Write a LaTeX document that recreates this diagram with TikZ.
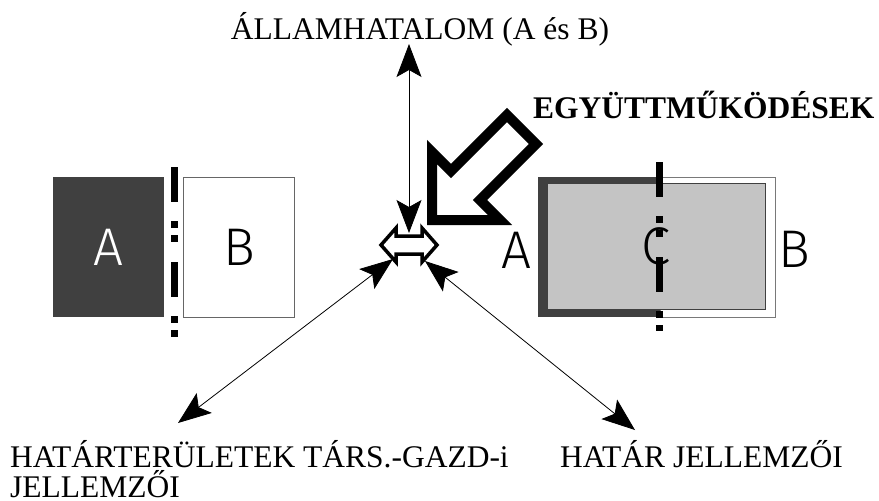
\documentclass[tikz,border=0pt]{standalone}
\usepackage{fontspec}
\setmainfont{Liberation Serif}
\newfontfamily\letterfont{Fira Sans Light}
\usetikzlibrary{positioning, arrows.meta}
\definecolor{darkbox}{HTML}{404040}
\definecolor{graybox}{HTML}{C4C4C4}
\tikzset{
  box/.style={minimum width=111pt, minimum height=140pt, inner sep=0pt, font=\letterfont\fontsize{53}{53}\selectfont},
  letter/.style={inner sep=0pt, font=\letterfont\fontsize{53}{53}\selectfont},
  txt/.style={inner sep=0pt, anchor=base west, font=\fontsize{31.5}{30}\selectfont},
  border/.style={line width=7pt, dash pattern=on 35pt off 19pt on 7pt off 7pt on 7pt off 20pt},
  link/.style={line width=0.8pt, {Stealth[length=33pt,width=25pt,inset=7pt]}-{Stealth[length=33pt,width=25pt,inset=7pt]}},
  hollow/.style={line join=miter, fill=white}
}
\begin{document}
\begin{tikzpicture}[x=1pt, y=-1pt]
  \useasboundingbox (0,0) rectangle (879,501);

  \node[box, fill=darkbox, text=white] (A) at (108.5,247) {A};
  \node[box, draw=darkbox!80, line width=0.8pt, right=19pt of A] (B) {B};
  \draw[border] (174,167) -- (174,337);

  \node[minimum width=122pt, minimum height=140pt, inner sep=0pt, fill=darkbox] (RA) at (599,247) {};
  \node[minimum width=115pt, minimum height=140pt, inner sep=0pt, draw=darkbox!70, line width=0.8pt, right=0pt of RA] (RB) {};
  \node[box, minimum width=218pt, minimum height=126pt, fill=graybox, draw=darkbox, line width=0.6pt] (C) at (656,246) {C};
  \node[letter] (LA) at (516,250) {A};
  \node[letter] (LB) at (794,249) {B};
  \draw[border] (659,162) -- (659,331);

  \node[txt, anchor=base] (T) at (420,39) {ÁLLAMHATALOM (A és B)};
  \node[txt, font=\fontsize{31.5}{30}\selectfont\bfseries] (E) at (533,118) {EGYÜTTMŰKÖDÉSEK};
  \node[txt] (H) at (10,467) {HATÁRTERÜLETEK TÁRS.-GAZD-i};
  \node[txt] (H2) at (10,497) {JELLEMZŐI};
  \node[txt] (J) at (560,467) {HATÁR JELLEMZŐI};

  \draw[hollow, line width=10pt] (432,220) -- (432,152) -- (451,171) -- (507,115)
    -- (536,144) -- (480,200) -- (500,220) -- cycle;

  \draw[hollow, line width=3.5pt] (381,245) -- (396,228) -- (396,236) -- (422,236)
    -- (422,228) -- (437,245) -- (422,262) -- (422,254) -- (396,254) -- (396,262) -- cycle;

  \coordinate (P) at (409,44);
  \coordinate (S) at (409,233);
  \coordinate (SL) at (393,259);
  \coordinate (SR) at (425,261);
  \coordinate (QL) at (178,423);
  \coordinate (QR) at (635,430);

  \draw[link] (P) -- (S);
  \draw[link] (SL) -- (QL);
  \draw[link] (SR) -- (QR);
\end{tikzpicture}
\end{document}
